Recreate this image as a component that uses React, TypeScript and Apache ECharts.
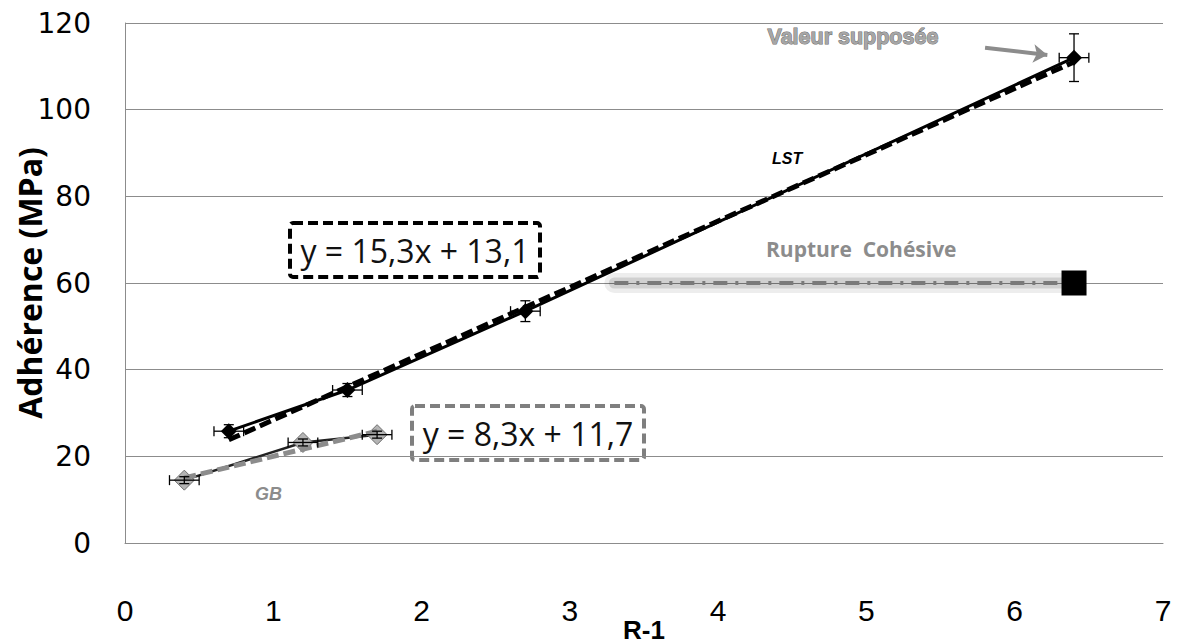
import React, { useEffect, useRef } from "react";
import * as echarts from "echarts";

const lstX = [0.7, 1.5, 2.7, 6.4];
const lstY = [25.8, 35.3, 53.5, 112];
const lstXErr = [0.1, 0.1, 0.1, 0.1];
const lstYErr = [1.5, 1.5, 2.4, 5.5];

const gbX = [0.4, 1.2, 1.7];
const gbY = [14.5, 23.2, 25];
const gbXErr = [0.1, 0.1, 0.1];
const gbYErr = [0.8, 0.8, 0.8];

const lstTrend = { slope: 15.3, intercept: 13.1, from: 0.7, to: 6.4 };
const gbTrend = { slope: 8.3, intercept: 11.7, from: 0.4, to: 1.7 };

const ruptureX = [3.3, 6.4];
const ruptureY = 60;

const xTicks = [0, 1, 2, 3, 4, 5, 6, 7];
const yTicks = [0, 20, 40, 60, 80, 100, 120];

const xName = "R-1";
const yName = "Adhérence (MPa)";

const arrowFrom = [5.8, 114.3];
const arrowTo = [6.22, 112.6];

function trend(t: { slope: number; intercept: number; from: number; to: number }) {
  return [
    [t.from, t.slope * t.from + t.intercept],
    [t.to, t.slope * t.to + t.intercept],
  ];
}

function errData(xs: number[], ys: number[], xe: number[], ye: number[]) {
  return xs.map((x, i) => [x, ys[i], xe[i], ye[i]]);
}

function errRender(params: any, api: any) {
  const x = api.value(0), y = api.value(1), dx = api.value(2), dy = api.value(3);
  const c = api.coord([x, y]);
  const l = api.coord([x - dx, y]);
  const r = api.coord([x + dx, y]);
  const t = api.coord([x, y + dy]);
  const b = api.coord([x, y - dy]);
  const cap = 5;
  const st = { stroke: "#000", lineWidth: 1.3 };
  return {
    type: "group",
    children: [
      { type: "line", shape: { x1: l[0], y1: c[1], x2: r[0], y2: c[1] }, style: st },
      { type: "line", shape: { x1: l[0], y1: c[1] - cap, x2: l[0], y2: c[1] + cap }, style: st },
      { type: "line", shape: { x1: r[0], y1: c[1] - cap, x2: r[0], y2: c[1] + cap }, style: st },
      { type: "line", shape: { x1: c[0], y1: t[1], x2: c[0], y2: b[1] }, style: st },
      { type: "line", shape: { x1: c[0] - cap, y1: t[1], x2: c[0] + cap, y2: t[1] }, style: st },
      { type: "line", shape: { x1: c[0] - cap, y1: b[1], x2: c[0] + cap, y2: b[1] }, style: st },
    ],
  };
}

const ruptureData = [[ruptureX[0], ruptureY], [ruptureX[1], ruptureY]];

export default function App() {
  const ref = useRef<HTMLDivElement>(null);
  useEffect(() => {
    const chart = echarts.init(ref.current!, null, { renderer: "svg" });
    const option: any = {
      animation: false,
      backgroundColor: "#fff",
      grid: { left: 125, right: 15, top: 23, bottom: 101, containLabel: false, outerBoundsMode: "none" },
      xAxis: {
        type: "value",
        min: xTicks[0],
        max: xTicks[xTicks.length - 1],
        interval: 1,
        axisLine: { show: true, lineStyle: { color: "#8c8c8c", width: 1 } },
        axisTick: { show: false },
        splitLine: { show: false },
        axisLabel: { margin: 52, fontSize: 30, color: "#000", fontFamily: "Liberation Sans Narrow, Liberation Sans, sans-serif" },
      },
      yAxis: {
        type: "value",
        min: yTicks[0],
        max: yTicks[yTicks.length - 1],
        interval: 20,
        axisLine: { show: true, lineStyle: { color: "#8c8c8c", width: 1 } },
        axisTick: { show: false },
        splitLine: { show: true, lineStyle: { color: "#8c8c8c", width: 1 } },
        axisLabel: { margin: 34, fontSize: 28, color: "#000", fontFamily: "DejaVu Sans, sans-serif" },
      },
      series: [
        {
          name: "Rupture glow outer",
          type: "line",
          data: ruptureData,
          showSymbol: false,
          lineStyle: { color: "rgba(0,0,0,0.07)", width: 20, cap: "round" },
          z: 1,
        },
        {
          name: "Rupture glow inner",
          type: "line",
          data: ruptureData,
          showSymbol: false,
          lineStyle: { color: "rgba(0,0,0,0.12)", width: 11, cap: "round" },
          z: 1,
        },
        {
          name: "Rupture",
          type: "line",
          data: ruptureData,
          showSymbol: false,
          lineStyle: { color: "#7a7a7a", width: 4, type: [14, 8, 3, 8] },
          z: 2,
        },
        {
          name: "RuptureMarker",
          type: "scatter",
          data: [[ruptureX[1], ruptureY]],
          symbol: "rect",
          symbolSize: 25,
          itemStyle: { color: "#000", opacity: 1 },
          z: 5,
        },
        {
          name: "LST trend",
          type: "line",
          data: trend(lstTrend),
          showSymbol: false,
          lineStyle: { color: "#000", width: 5, type: [12, 5] },
          z: 3,
        },
        {
          name: "LST",
          type: "line",
          data: lstX.map((x, i) => [x, lstY[i]]),
          symbol: "diamond",
          symbolSize: 16,
          itemStyle: { color: "#000" },
          lineStyle: { color: "#000", width: 3 },
          z: 4,
        },
        {
          name: "GB",
          type: "line",
          data: gbX.map((x, i) => [x, gbY[i]]),
          symbol: "diamond",
          symbolSize: 20,
          itemStyle: { color: "#b4b4b4", borderColor: "#6e6e6e", borderWidth: 1 },
          lineStyle: { color: "#222", width: 2.5 },
          z: 3,
        },
        {
          name: "GB trend",
          type: "line",
          data: trend(gbTrend),
          showSymbol: false,
          lineStyle: { color: "#8c8c8c", width: 5, type: [12, 5] },
          z: 4,
        },
        {
          name: "LST err",
          type: "custom",
          renderItem: errRender,
          data: errData(lstX, lstY, lstXErr, lstYErr),
          z: 6,
        },
        {
          name: "GB err",
          type: "custom",
          renderItem: errRender,
          data: errData(gbX, gbY, gbXErr, gbYErr),
          z: 6,
        },
        {
          name: "arrow",
          type: "line",
          data: [],
          markLine: {
            silent: true,
            symbol: ["none", "arrow"],
            symbolSize: 14,
            label: { show: false },
            lineStyle: { color: "#8c8c8c", width: 4, type: "solid" },
            data: [[{ coord: arrowFrom }, { coord: arrowTo }]],
          },
        },
      ],
      graphic: [
        {
          type: "text",
          x: 644,
          y: 630,
          style: {
            text: xName,
            fontSize: 26,
            fontWeight: "bold",
            fontFamily: "Liberation Sans Narrow, Liberation Sans, sans-serif",
            fill: "#000",
            align: "center",
            verticalAlign: "middle",
          },
        },
        {
          type: "text",
          x: 29,
          y: 283,
          rotation: Math.PI / 2,
          style: {
            text: yName,
            fontSize: 32,
            fontWeight: "bold",
            fontFamily: "Open Sans, sans-serif",
            fill: "#000",
            align: "center",
            verticalAlign: "middle",
          },
        },
        {
          type: "text",
          left: 767,
          top: 25,
          style: {
            text: "Valeur supposée",
            fontSize: 21.5,
            fontWeight: "bold",
            fontFamily: "Liberation Sans, sans-serif",
            fill: "#a6a6a6",
            stroke: "#6e6e6e",
            lineWidth: 1,
          },
        },
        {
          type: "text",
          left: 772,
          top: 150,
          style: { text: "LST", fontSize: 16, fontWeight: "bold", fontStyle: "italic", fontFamily: "Liberation Sans, sans-serif", fill: "#000" },
        },
        {
          type: "text",
          left: 255,
          top: 485,
          style: { text: "GB", fontSize: 18, fontWeight: "bold", fontStyle: "italic", fontFamily: "Liberation Sans, sans-serif", fill: "#8c8c8c" },
        },
        {
          type: "text",
          left: 766,
          top: 238,
          style: { text: "Rupture  Cohésive", fontSize: 21, fontWeight: "bold", fontFamily: "Open Sans, sans-serif", fill: "#8c8c8c" },
        },
        {
          type: "group",
          left: 288,
          top: 221,
          children: [
            {
              type: "rect",
              shape: { x: 0, y: 0, width: 250, height: 54, r: 3 },
              style: { fill: "#fff", stroke: "#000", lineWidth: 4, lineDash: [10, 5] },
            },
            {
              type: "text",
              x: 125,
              y: 27,
              style: { text: "y = 15,3x + 13,1", fontSize: 32, fontFamily: "Open Sans, sans-serif", fill: "#111", align: "center", verticalAlign: "middle" },
            },
          ],
        },
        {
          type: "group",
          left: 410,
          top: 404,
          children: [
            {
              type: "rect",
              shape: { x: 0, y: 0, width: 232, height: 54, r: 3 },
              style: { fill: "#fff", stroke: "#7f7f7f", lineWidth: 4, lineDash: [10, 5] },
            },
            {
              type: "text",
              x: 116,
              y: 27,
              style: { text: "y = 8,3x + 11,7", fontSize: 32, fontFamily: "Open Sans, sans-serif", fill: "#111", align: "center", verticalAlign: "middle" },
            },
          ],
        },
      ],
    };
    chart.setOption(option);
    return () => chart.dispose();
  }, []);
  return <div ref={ref} style={{ width: 1178, height: 644, position: "absolute", left: 0, top: 0 }} />;
}
